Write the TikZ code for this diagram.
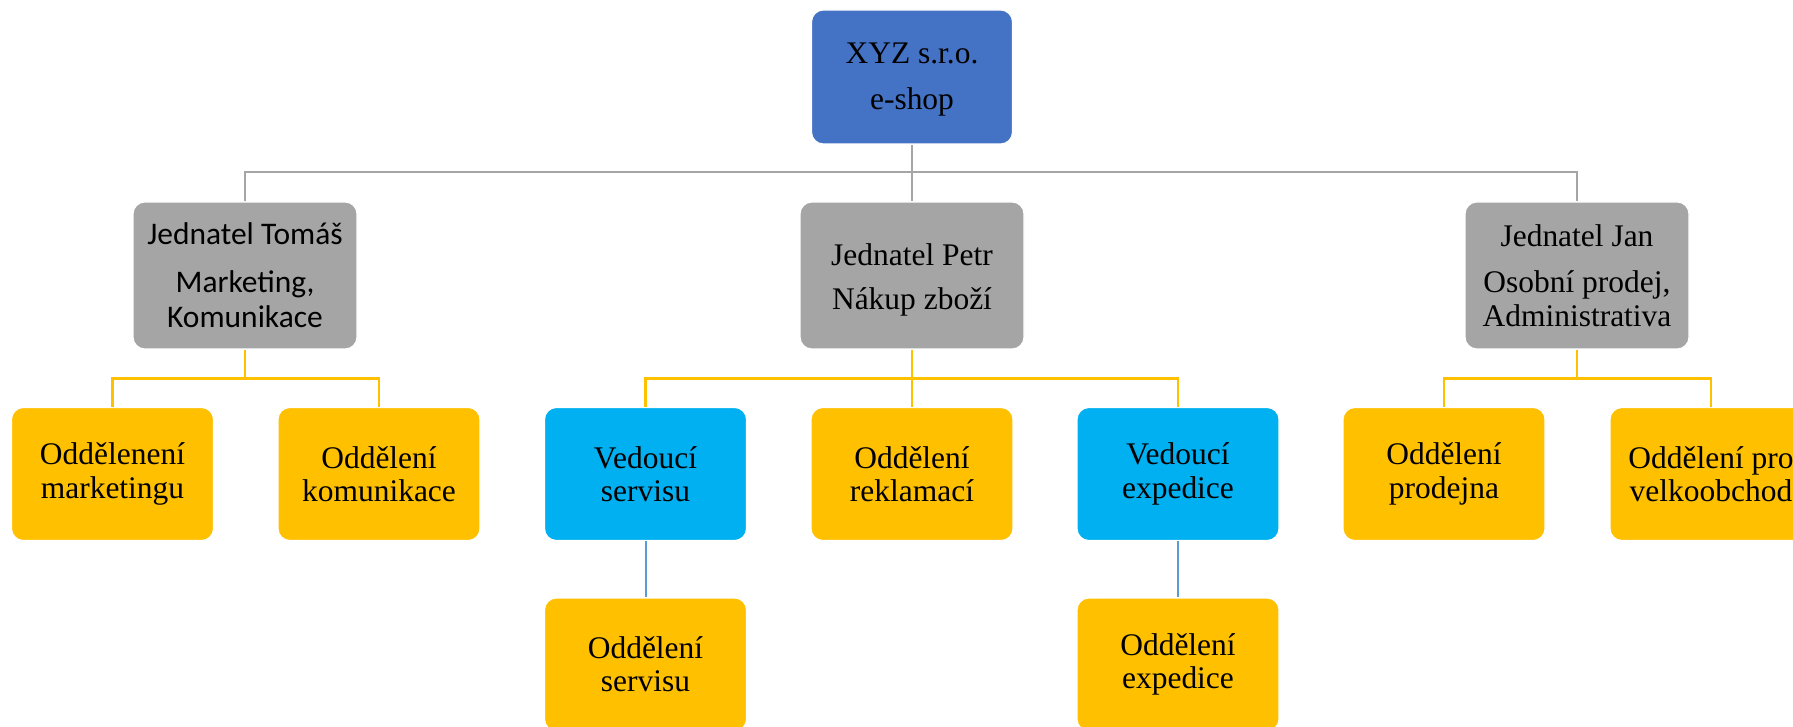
\documentclass[tikz,border=0pt]{standalone}
\usepackage{fontspec}
\setmainfont{Liberation Serif}
\newfontfamily\calibrifont{Carlito}
\definecolor{topblue}{HTML}{4472C4}
\definecolor{boxgray}{HTML}{A5A5A5}
\definecolor{deptyellow}{HTML}{FFC000}
\definecolor{leadcyan}{HTML}{00B0F0}
\definecolor{linegray}{HTML}{A5A5A5}
\definecolor{lineblue}{HTML}{5B9BD5}
\begin{document}
\begin{tikzpicture}[x=0.75pt,y=-0.75pt,
  box/.style={rounded corners=9pt, inner sep=0pt, align=center, draw=white, line width=0.8pt,
    font=\fontsize{23.6}{25}\selectfont},
  lvltop/.style={box, fill=topblue, minimum width=150.75pt, minimum height=100.5pt},
  lvltwo/.style={box, fill=boxgray, minimum width=168pt, minimum height=110.25pt},
  dept/.style={box, fill=deptyellow, minimum width=151.5pt, minimum height=99.75pt},
  lead/.style={dept, fill=leadcyan},
  grayline/.style={draw=linegray, line width=2.2pt},
  yellowline/.style={draw=deptyellow, line width=2pt},
  blueline/.style={draw=lineblue, line width=1.5pt}
]
\path[use as bounding box, clip] (0,0) rectangle (1793,727);

% company
\node[lvltop] (top) at (912,77) {\rule{0pt}{20pt}XYZ s.r.o.\\[9.5pt]e-shop};

% executives
\node[lvltwo, font=\calibrifont\fontsize{23.6}{26.5}\selectfont] (tomas) at (245,275.5)
  {Jednatel Tomáš\\[9pt]Marketing,\\Komunikace};
\node[lvltwo] (petr) at (912,275.5) {\rule{0pt}{22.5pt}Jednatel Petr\\[8.2pt]Nákup zboží};
\node[lvltwo] (jan) at (1577,275.5) {Jednatel Jan\\[10pt]Osobní prodej,\\Administrativa};

% departments
\node[dept] (mkt) at (112.5,474) {Oddělenení\\marketingu};
\node[dept] (kom) at (379,474) {Oddělení\\komunikace};
\node[lead] (vs) at (645.5,474) {Vedoucí\\servisu};
\node[dept] (rek) at (912,474) {Oddělení\\reklamací};
\node[lead] (ve) at (1178,474) {Vedoucí\\expedice};
\node[dept] (prod) at (1444,474) {Oddělení\\prodejna};
\node[dept] (velk) at (1711,474) {Oddělení pro\\velkoobchod};

\node[dept] (os) at (645.5,664.5) {Oddělení\\servisu};
\node[dept] (oe) at (1178,664.5) {Oddělení\\expedice};

% branching points
\coordinate (busTop) at (912,172);
\coordinate (busL) at (245,378.5);
\coordinate (busM) at (912,378.5);
\coordinate (busR) at (1577,378.5);

% company -> executives
\draw[grayline] (top.south) -- (petr.north);
\draw[grayline] (tomas.north) |- (busTop) -| (jan.north);

% executives -> departments
\draw[yellowline] (tomas.south) -- (busL);
\draw[yellowline] (mkt.north) |- (busL) -| (kom.north);
\draw[yellowline] (petr.south) -- (rek.north);
\draw[yellowline] (vs.north) |- (busM) -| (ve.north);
\draw[yellowline] (jan.south) -- (busR);
\draw[yellowline] (prod.north) |- (busR) -| (velk.north);

% leaders -> their departments
\draw[blueline] (vs.south) -- (os.north);
\draw[blueline] (ve.south) -- (oe.north);
\end{tikzpicture}
\end{document}
